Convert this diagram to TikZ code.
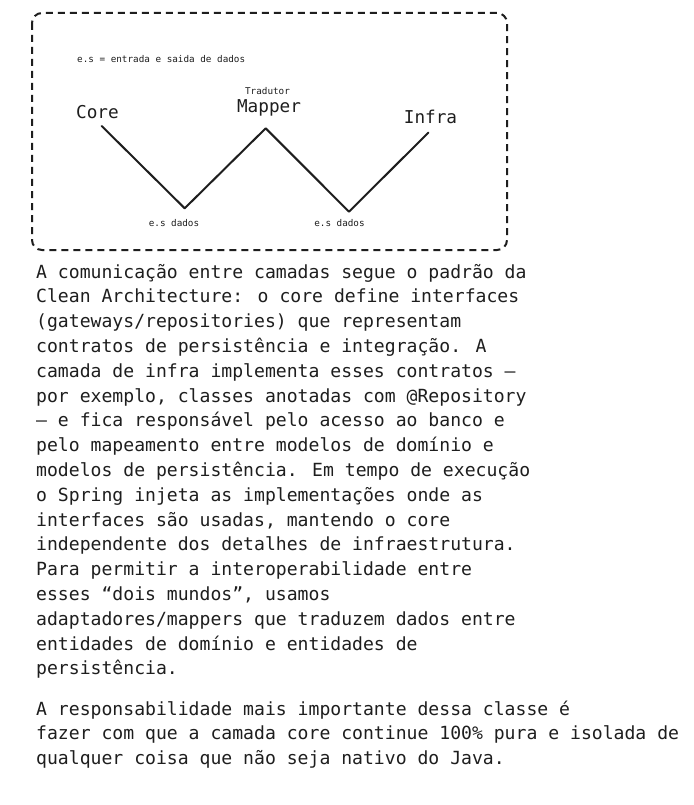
\documentclass[tikz,border=0pt]{standalone}
\usepackage{fontspec}
\newfontfamily\monofnt{DejaVu Sans Mono}
\definecolor{ink}{HTML}{1E1E1E}
\begin{document}
\begin{tikzpicture}[x=1pt,y=-1pt,
  txt/.style={anchor=base west,inner sep=0pt,text=ink,font=\monofnt\fontsize{18.1pt}{24.8pt}\selectfont},
  big/.style={anchor=base,inner sep=0pt,text=ink,font=\monofnt\fontsize{17.7pt}{20pt}\selectfont},
  small/.style={inner sep=0pt,text=ink,font=\monofnt\fontsize{9.3pt}{11pt}\selectfont},
  frame/.style={draw=ink,line width=2pt,dash pattern=on 7pt off 5pt,rounded corners=10pt},
  zig/.style={draw=ink,line width=2pt,line cap=round,line join=round}]
\useasboundingbox (0,0) rectangle (693,805);
\fill[white] (0,0) rectangle (693,805);
% frame
\draw[frame] (32,13) rectangle (507,250);
% labels
\node[small,anchor=base west] (legend) at (77,62.5) {e.s = entrada e saida de dados};
\node[small,anchor=base] (trad) at (267.5,95) {Tradutor};
\node[big] (core) at (97.5,119) {Core};
\node[big] (mapper) at (269,113) {Mapper};
\node[big] (infra) at (430.5,124) {Infra};
% zigzag
\coordinate (c0) at (101.7,126);
\coordinate (v1) at (184.7,208.3);
\coordinate (m0) at (265.7,128.3);
\coordinate (v2) at (349,211.7);
\coordinate (i0) at (428.3,132.7);
\draw[zig] (c0) -- (v1) -- (m0) -- (v2) -- (i0);
\node[small,anchor=base] (es1) at (174,226) {e.s dados};
\node[small,anchor=base] (es2) at (339.5,226.5) {e.s dados};
% paragraph 1
\node[txt] (l1) at (36,278) {A comunicação entre camadas segue o padrão da};
\node[txt] (l2) at (36,302.8) {Clean Architecture: o core define interfaces};
\node[txt] (l3) at (36,327.6) {(gateways/repositories) que representam};
\node[txt] (l4) at (36,352.4) {contratos de persistência e integração. A};
\node[txt] (l5) at (36,377.2) {camada de infra implementa esses contratos –};
\node[txt] (l6) at (36,402) {por exemplo, classes anotadas com @Repository};
\node[txt] (l7) at (36,426.8) {– e fica responsável pelo acesso ao banco e};
\node[txt] (l8) at (36,451.6) {pelo mapeamento entre modelos de domínio e};
\node[txt] (l9) at (36,476.4) {modelos de persistência. Em tempo de execução};
\node[txt] (l10) at (36,501.2) {o Spring injeta as implementações onde as};
\node[txt] (l11) at (36,526) {interfaces são usadas, mantendo o core};
\node[txt] (l12) at (36,550.8) {independente dos detalhes de infraestrutura.};
\node[txt] (l13) at (36,575.6) {Para permitir a interoperabilidade entre};
\node[txt] (l14) at (36,600.4) {esses “dois mundos”, usamos};
\node[txt] (l15) at (36,625.2) {adaptadores/mappers que traduzem dados entre};
\node[txt] (l16) at (36,650) {entidades de domínio e entidades de};
\node[txt] (l17) at (36,674.8) {persistência.};
% paragraph 2
\node[txt] (p1) at (36,715) {A responsabilidade mais importante dessa classe é};
\node[txt] (p2) at (36,739.5) {fazer com que a camada core continue 100\% pura e isolada de};
\node[txt] (p3) at (36,764) {qualquer coisa que não seja nativo do Java.};
\end{tikzpicture}
\end{document}
